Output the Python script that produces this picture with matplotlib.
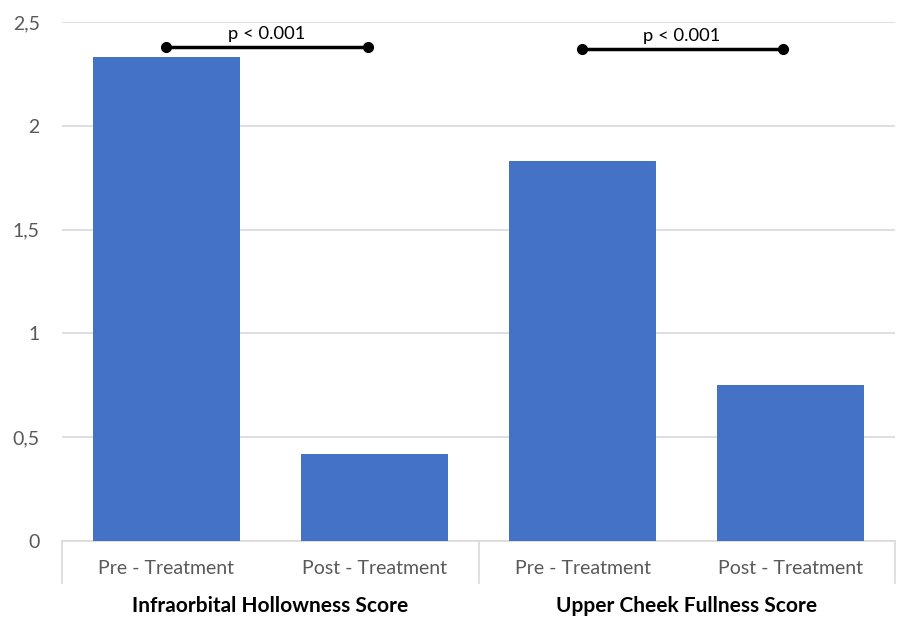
import matplotlib.pyplot as plt
import numpy as np

# Data
categories = ['Pre - Treatment', 'Post - Treatment', 'Pre - Treatment', 'Post - Treatment']
groups = ['Infraorbital Hollowness Score', 'Upper Cheek Fullness Score']
values = [2.33, 0.42, 1.83, 0.75]
p_labels = ['p < 0.001', 'p < 0.001']
y_ticks = [0, 0.5, 1, 1.5, 2, 2.5]
y_ticklabels = ['0', '0,5', '1', '1,5', '2', '2,5']

plt.rcParams['font.family'] = ['Lato', 'DejaVu Sans']

W, H = 898, 617
fig = plt.figure(figsize=(W / 100, H / 100), dpi=100)
ax = fig.add_axes([62 / W, (H - 541) / H, (895 - 62) / W, (541 - 22) / H])

x = np.arange(len(values))
ax.bar(x, values, width=0.705, color='#4472c4', zorder=3)

ax.set_xlim(-0.5, len(values) - 0.5)
ax.set_ylim(0, 2.5)
ax.set_yticks(y_ticks)
ax.set_yticklabels(y_ticklabels, fontsize=14, color='#595959')
ax.tick_params(axis='y', length=0, pad=16)
ax.set_xticks([])
ax.grid(axis='y', color='#d9d9d9', lw=1.2, zorder=0)

for s in ['top', 'right', 'left']:
    ax.spines[s].set_visible(False)
ax.spines['bottom'].set_color('#d9d9d9')
ax.spines['bottom'].set_linewidth(1.2)

# Category labels and separators
trans = ax.get_xaxis_transform()
for i, c in enumerate(categories):
    ax.text(x[i], -0.053, c, transform=trans, ha='center', va='center',
            fontsize=14, color='#595959')
for xs in [-0.5, 1.5, 3.5]:
    ax.plot([xs, xs], [0, -0.08], transform=trans, color='#d9d9d9', lw=1.2, clip_on=False)

# Group labels
for g, label in enumerate(groups):
    ax.text(2 * g + 0.5, -0.125, label, transform=trans, ha='center', va='center',
            fontsize=15, fontweight='bold', color='black')

# Significance brackets
brackets = [(-0.003, 0.97, 2.38), (1.995, 2.96, 2.37)]
for (x0, x1, yb), lab in zip(brackets, p_labels):
    ax.plot([x0, x1], [yb, yb], color='black', lw=2.5, marker='o', ms=7, zorder=5,
            clip_on=False)
    ax.text((x0 + x1) / 2, yb + 0.025, lab, ha='center', va='bottom', fontsize=13.2,
            color='black')

plt.savefig('out.png', dpi=100)
